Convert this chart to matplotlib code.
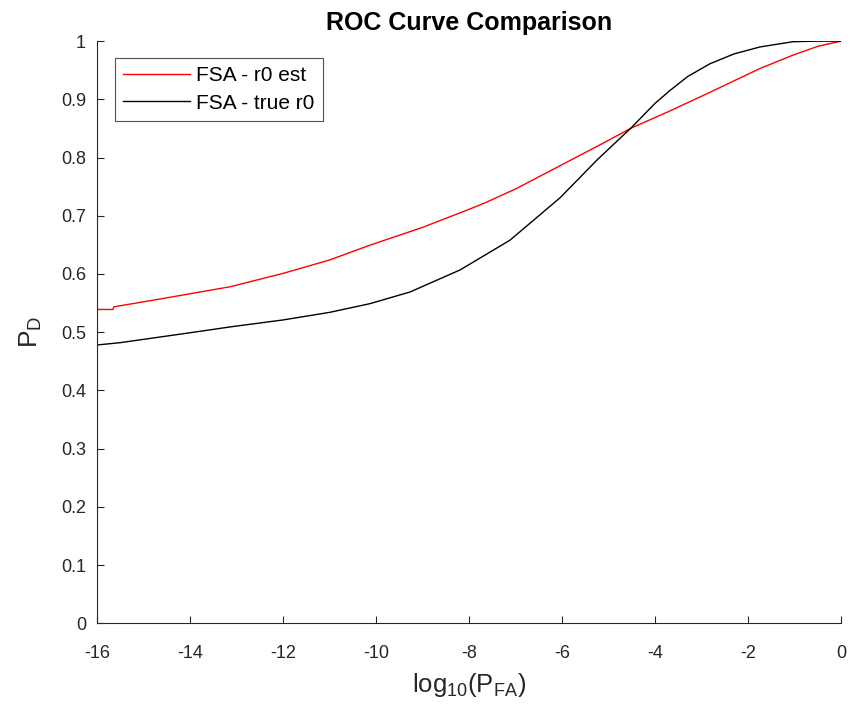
import matplotlib
matplotlib.use("Agg")
import matplotlib.pyplot as plt

plt.rcParams['font.family'] = ['Liberation Sans', 'DejaVu Sans']
plt.rcParams['axes.unicode_minus'] = False

# log10(PFA) and PD values
x_est = [-16, -15.66, -15.64, -14.5, -13.14, -12, -11, -10.13, -9, -8, -7.66, -7,
         -6.04, -5.25, -4.5, -3.68, -2.82, -1.74, -1.03, -0.5, 0]
pd_est = [0.539, 0.539, 0.5435, 0.559, 0.578, 0.601, 0.624, 0.6495, 0.680, 0.711, 0.722, 0.746,
          0.786, 0.819, 0.851, 0.880, 0.912, 0.953, 0.976, 0.991, 1.0]

x_true = [-16, -15.5, -14, -13.14, -12, -11, -10.13, -9.27, -8.19, -7.12, -6.04,
          -5.25, -4.5, -4, -3.68, -3.3, -2.82, -2.3, -1.74, -1.03, -0.5, 0]
pd_true = [0.478, 0.482, 0.499, 0.509, 0.521, 0.534, 0.549, 0.569, 0.607, 0.658, 0.731,
           0.7955, 0.852, 0.893, 0.915, 0.939, 0.961, 0.978, 0.990, 0.999, 1.0, 1.0]

xticks = [-16, -14, -12, -10, -8, -6, -4, -2, 0]
yticks = [0, 0.1, 0.2, 0.3, 0.4, 0.5, 0.6, 0.7, 0.8, 0.9, 1]
ytick_labels = ['0', '0.1', '0.2', '0.3', '0.4', '0.5', '0.6', '0.7', '0.8', '0.9', '1']

fig = plt.figure(figsize=(8.52, 7.09), dpi=100)
ax = fig.add_axes([0.114, 0.121, 0.873, 0.821])

ax.plot(x_est, pd_est, color='red', lw=1.0, label='FSA - r0 est')
ax.plot(x_true, pd_true, color='black', lw=1.0, label='FSA - true r0')

ax.set_xlim(-16, 0)
ax.set_ylim(0, 1)
ax.set_xticks(xticks)
ax.set_xticklabels([str(t) for t in xticks])
ax.set_yticks(yticks)
ax.set_yticklabels(ytick_labels)

ax.spines['top'].set_visible(False)
ax.spines['right'].set_visible(False)
for s in ['left', 'bottom']:
    ax.spines[s].set_color('#262626')
    ax.spines[s].set_linewidth(0.8)
ax.tick_params(direction='in', length=5, width=0.8, colors='#262626', labelsize=13)
ax.tick_params(axis='x', pad=16)
ax.tick_params(axis='y', pad=8)

ax.set_title('ROC Curve Comparison', fontsize=18, fontweight='bold', pad=8)
ax.set_xlabel(r'$\mathregular{log_{10}(P_{FA})}$', fontsize=18.5, color='#262626', labelpad=6)
ax.set_ylabel(r'$\mathregular{P_D}$', fontsize=19, color='#262626', labelpad=12)

leg = ax.legend(loc='upper left', bbox_to_anchor=(0.024, 0.971), fontsize=15,
                frameon=True, fancybox=False, handlelength=3.2, borderpad=0.4,
                labelspacing=0.4, handletextpad=0.3, borderaxespad=0)
leg.get_frame().set_edgecolor('#262626')
leg.get_frame().set_linewidth(0.8)

fig.savefig('out.png', dpi=100)
